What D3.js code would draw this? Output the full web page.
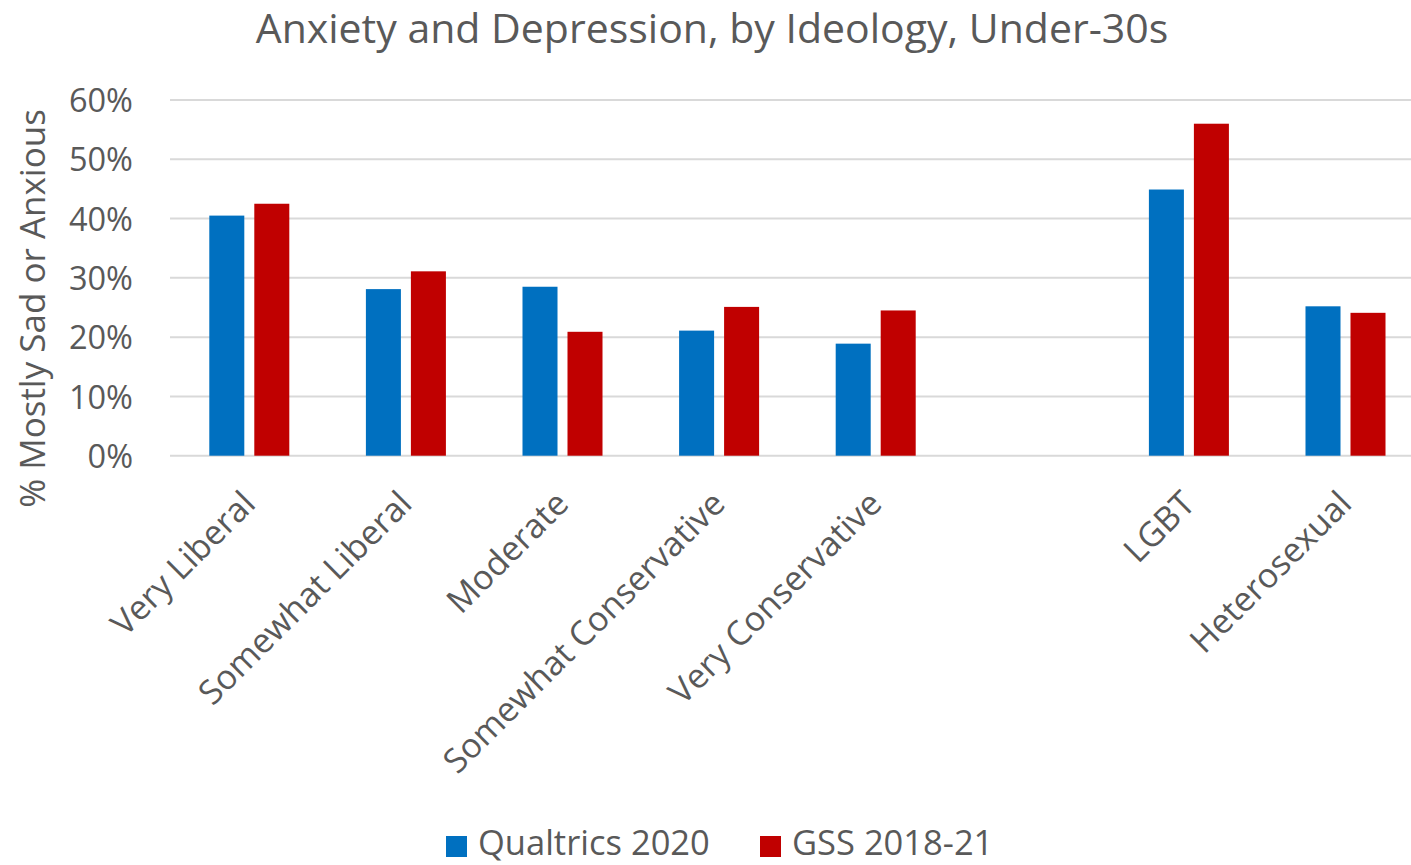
<!DOCTYPE html>
<html>
<head>
<meta charset="utf-8">
<script src="https://cdn.jsdelivr.net/npm/d3@7"></script>
<style>
  html, body { margin: 0; padding: 0; background: #fff; }
  svg text { font-family: "Open Sans", "Noto Sans", sans-serif; fill: #595959; }
</style>
</head>
<body>
<svg id="chart" width="1411" height="865"></svg>
<script>
const categories = ["Very Liberal", "Somewhat Liberal", "Moderate", "Somewhat Conservative", "Very Conservative", "", "LGBT", "Heterosexual"];
const seriesNames = ["Qualtrics 2020", "GSS 2018-21"];
const qualtrics2020 = [0.405, 0.281, 0.285, 0.211, 0.189, null, 0.449, 0.252];
const gss201821 = [0.425, 0.311, 0.209, 0.251, 0.245, null, 0.560, 0.241];
const yTicks = [0, 0.1, 0.2, 0.3, 0.4, 0.5, 0.6];
const colors = ["#0070C0", "#C00000"];

const svg = d3.select("#chart");
const W = 1411, H = 865;
const plot = { left: 171, right: 1423.8, top: 100, bottom: 455.7 };

const x0 = d3.scaleBand().domain(categories).range([plot.left, plot.right]).padding(0);
const x1 = d3.scaleBand().domain(seriesNames).range([0, x0.bandwidth()])
  .paddingInner(0.222).paddingOuter(0.851);
const y = d3.scaleLinear().domain([0, 0.6]).range([plot.bottom, plot.top]);

// gridlines
const grid = svg.append("g");
grid.selectAll("line").data(yTicks).join("line")
  .attr("x1", plot.left - 1).attr("x2", W)
  .attr("y1", d => y(d)).attr("y2", d => y(d))
  .attr("stroke", "#d9d9d9").attr("stroke-width", 2);

// y axis labels
const yAxis = d3.axisLeft(y).tickValues(yTicks).tickFormat(d3.format(".0%")).tickSize(0).tickPadding(0);
const yg = svg.append("g").attr("transform", `translate(133,0)`).call(yAxis);
yg.select(".domain").remove();
yg.selectAll("text").style("font-size", "32.5px").attr("fill", "#595959")
  .style("font-family", '"Open Sans", sans-serif').attr("dy", "0.36em");

// bars
const rows = categories.map((c, i) => ({ cat: c, vals: [qualtrics2020[i], gss201821[i]] }));
const groups = svg.append("g").selectAll("g").data(rows).join("g")
  .attr("transform", d => `translate(${x0(d.cat)},0)`);
groups.selectAll("rect")
  .data(d => d.vals.map((v, j) => ({ v, s: seriesNames[j], j })).filter(e => e.v != null))
  .join("rect")
  .attr("x", e => x1(e.s))
  .attr("width", x1.bandwidth())
  .attr("y", e => y(e.v))
  .attr("height", e => y(0) - y(e.v))
  .attr("fill", e => colors[e.j]);

// x axis labels
const xg = svg.append("g");
xg.selectAll("text").data(categories.filter(c => c !== "")).join("text")
  .attr("transform", c => `translate(${x0(c) + x0.bandwidth() / 2 + 8},${plot.bottom + 50}) rotate(-45)`)
  .attr("text-anchor", "end")
  .style("font-size", "34px")
  .text(c => c);

// title
svg.append("text").attr("x", 712).attr("y", 43).attr("text-anchor", "middle")
  .style("font-size", "41px").text("Anxiety and Depression, by Ideology, Under-30s");

// y axis title
svg.append("text")
  .attr("transform", `translate(45,${(110 + 507) / 2}) rotate(-90)`)
  .attr("text-anchor", "middle").style("font-size", "35px")
  .text("% Mostly Sad or Anxious");

// legend
const legend = svg.append("g");
const legendX = [446, 760];
seriesNames.forEach((s, i) => {
  legend.append("rect").attr("x", legendX[i]).attr("y", 836).attr("width", 21).attr("height", 21).attr("fill", colors[i]);
  legend.append("text").attr("x", legendX[i] + 32).attr("y", 855).style("font-size", "34.5px").text(s);
});
</script>
</body>
</html>
